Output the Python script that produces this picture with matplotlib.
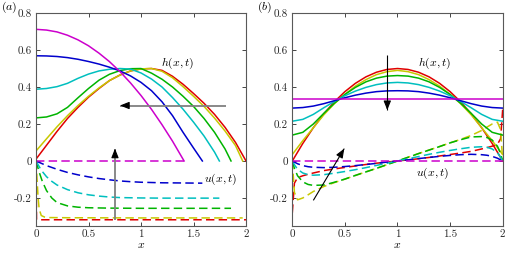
import numpy as np
import matplotlib
matplotlib.use("Agg")
import matplotlib.pyplot as plt

plt.rcParams["font.family"] = "cmr10"
plt.rcParams["mathtext.fontset"] = "cm"
plt.rcParams["axes.unicode_minus"] = False
plt.rcParams["axes.formatter.use_mathtext"] = True

# colours, in time order (first -> last)
colors = ["#e00000", "#c8c800", "#00b400", "#00bfbf", "#0000cc", "#cc00cc"]

# ---------------- panel (a) : h(x,t) ----------------
xa = [0.0, 0.1, 0.2, 0.3, 0.4, 0.5, 0.6, 0.7, 0.8, 0.9, 1.0,
      1.1, 1.2, 1.3, 1.4, 1.5, 1.6, 1.7, 1.8, 1.9, 2.0]

ha_red = [0.01, 0.085, 0.16, 0.23, 0.29, 0.345, 0.392, 0.435, 0.465, 0.487, 0.498,
          0.5, 0.49, 0.458, 0.415, 0.365, 0.312, 0.252, 0.182, 0.1, 0.0]
xa_yel = xa[:20] + [1.968]
ha_yel = [0.054, 0.12, 0.185, 0.245, 0.3, 0.35, 0.395, 0.435, 0.465, 0.487, 0.498,
          0.5, 0.485, 0.45, 0.402, 0.35, 0.295, 0.232, 0.162, 0.083, 0.0]
xa_grn = xa[:19] + [1.857]
ha_grn = [0.233, 0.238, 0.255, 0.29, 0.342, 0.392, 0.437, 0.469, 0.489, 0.499, 0.5,
          0.475, 0.442, 0.4, 0.35, 0.295, 0.23, 0.155, 0.065, 0.0]
xa_cyn = xa[:18] + [1.746]
ha_cyn = [0.388, 0.392, 0.402, 0.42, 0.447, 0.47, 0.487, 0.496, 0.5, 0.497, 0.476,
          0.443, 0.4, 0.343, 0.28, 0.21, 0.135, 0.048, 0.0]
xa_blu = xa[:16] + [1.584]
ha_blu = [0.569, 0.568, 0.565, 0.559, 0.55, 0.538, 0.524, 0.507, 0.487, 0.46, 0.425,
          0.38, 0.32, 0.245, 0.155, 0.07, 0.0]
xa_mag = xa[:14] + [1.41]
ha_mag = [0.712, 0.708, 0.698, 0.68, 0.655, 0.623, 0.583, 0.537, 0.483, 0.422, 0.354,
          0.279, 0.196, 0.107, 0.0]

# ---------------- panel (a) : u(x,t) ----------------
ua_red_x = [0.0, 0.005, 2.0]
ua_red = [0.0, -0.318, -0.318]
ua_yel_x = [0.0, 0.01, 0.02, 0.03, 0.05, 0.08, 0.12, 0.3, 1.0, 1.968]
ua_yel = [0.0, -0.1, -0.2, -0.26, -0.295, -0.303, -0.306, -0.307, -0.308, -0.308]
ua_grn_x = [0.0, 0.03, 0.06, 0.1, 0.15, 0.2, 0.3, 0.4, 0.5, 0.7, 1.0, 1.5, 1.857]
ua_grn = [0.0, -0.06, -0.11, -0.16, -0.2, -0.225, -0.243, -0.25, -0.253, -0.255,
          -0.256, -0.256, -0.256]
ua_cyn_x = [0.0, 0.05, 0.1, 0.15, 0.2, 0.3, 0.4, 0.5, 0.6, 0.7, 0.8, 1.0, 1.2, 1.4,
            1.6, 1.746]
ua_cyn = [0.0, -0.05, -0.085, -0.11, -0.13, -0.155, -0.172, -0.183, -0.19, -0.195,
          -0.198, -0.2, -0.201, -0.201, -0.201, -0.201]
ua_blu_x = [0.0, 0.1, 0.2, 0.3, 0.4, 0.5, 0.6, 0.7, 0.8, 0.9, 1.0, 1.2, 1.4, 1.584]
ua_blu = [0.0, -0.025, -0.045, -0.062, -0.075, -0.086, -0.095, -0.102, -0.108,
          -0.112, -0.115, -0.118, -0.119, -0.12]
ua_mag_x = [0.0, 1.41]
ua_mag = [0.0, 0.0]

# ---------------- panel (b) : h(x,t) ----------------
xb = xa
hb_red = [0.0, 0.095, 0.18, 0.255, 0.32, 0.375, 0.42, 0.455, 0.48, 0.495, 0.5,
          0.495, 0.48, 0.455, 0.42, 0.375, 0.32, 0.255, 0.18, 0.095, 0.0]
hb_yel = [0.035, 0.11, 0.18, 0.25, 0.31, 0.36, 0.405, 0.44, 0.467, 0.483, 0.49,
          0.483, 0.467, 0.44, 0.405, 0.36, 0.31, 0.25, 0.18, 0.11, 0.035]
hb_grn = [0.14, 0.155, 0.2, 0.258, 0.312, 0.36, 0.398, 0.428, 0.448, 0.459, 0.462,
          0.459, 0.448, 0.428, 0.398, 0.36, 0.312, 0.258, 0.2, 0.155, 0.14]
hb_cyn = [0.215, 0.225, 0.252, 0.288, 0.322, 0.353, 0.378, 0.398, 0.413, 0.422, 0.425,
          0.422, 0.413, 0.398, 0.378, 0.353, 0.322, 0.288, 0.252, 0.225, 0.215]
hb_blu = [0.286, 0.289, 0.297, 0.31, 0.326, 0.342, 0.356, 0.367, 0.375, 0.379, 0.38,
          0.379, 0.375, 0.367, 0.356, 0.342, 0.326, 0.31, 0.297, 0.289, 0.286]
hb_mag_x = [0.0, 2.0]
hb_mag = [0.334, 0.334]

# ---------------- panel (b) : u(x,t) ----------------
xu = [0.0, 0.02, 0.05, 0.1, 0.15, 0.2, 0.3, 0.4, 0.5, 0.6, 0.7, 0.8, 0.9, 1.0,
      1.1, 1.2, 1.3, 1.4, 1.5, 1.6, 1.7, 1.8, 1.85, 1.9, 1.95, 1.98, 2.0]
ub_red = [-0.28, -0.12, -0.09, -0.08, -0.072, -0.065, -0.052, -0.043, -0.035, -0.027,
          -0.019, -0.012, -0.006, 0.0, 0.006, 0.012, 0.019, 0.027, 0.035, 0.043,
          0.052, 0.065, 0.072, 0.08, 0.09, 0.12, 0.28]
ub_yel = [0.0, -0.17, -0.21, -0.2, -0.183, -0.165, -0.138, -0.117, -0.098, -0.078,
          -0.059, -0.04, -0.02, 0.0, 0.02, 0.04, 0.059, 0.078, 0.098, 0.117, 0.138,
          0.165, 0.183, 0.2, 0.21, 0.17, 0.0]
ub_grn = [0.0, -0.04, -0.08, -0.113, -0.127, -0.132, -0.13, -0.115, -0.098, -0.078,
          -0.059, -0.04, -0.02, 0.0, 0.02, 0.04, 0.059, 0.078, 0.098, 0.115, 0.13,
          0.132, 0.127, 0.113, 0.08, 0.04, 0.0]
ub_cyn = [0.0, -0.02, -0.045, -0.065, -0.074, -0.077, -0.074, -0.066, -0.057, -0.047,
          -0.036, -0.024, -0.012, 0.0, 0.012, 0.024, 0.036, 0.047, 0.057, 0.066,
          0.074, 0.077, 0.074, 0.065, 0.045, 0.02, 0.0]
ub_blu = [0.0, -0.006, -0.015, -0.025, -0.031, -0.034, -0.036, -0.034, -0.03, -0.025,
          -0.019, -0.013, -0.006, 0.0, 0.006, 0.013, 0.019, 0.025, 0.03, 0.034,
          0.036, 0.034, 0.031, 0.025, 0.015, 0.006, 0.0]
ub_mag_x = [0.0, 2.0]
ub_mag = [0.0, 0.0]

xticks = [0, 0.5, 1, 1.5, 2]
xticklabels = ["0", "0.5", "1", "1.5", "2"]
yticks = [-0.2, 0, 0.2, 0.4, 0.6, 0.8]
yticklabels = ["-0.2", "0", "0.2", "0.4", "0.6", "0.8"]

LW = 1.1
DASH = (0, (5.5, 2.8))
FS = 8


def style_axes(ax):
    ax.set_xlim(0, 2)
    ax.set_ylim(-0.35, 0.8)
    ax.set_xticks(xticks)
    ax.set_xticklabels(xticklabels)
    ax.set_yticks(yticks)
    ax.set_yticklabels(yticklabels)
    ax.tick_params(direction="in", length=3, width=0.6, labelsize=FS,
                   top=True, right=True, colors="0.15", pad=3)
    for s in ax.spines.values():
        s.set_color("0.35")
        s.set_linewidth(0.8)
    ax.set_xlabel("$x$", fontsize=FS + 0.5, labelpad=1)


def arrow(ax, tail, tip, line_color, lw):
    ax.plot([tail[0], tip[0]], [tail[1], tip[1]], color=line_color, lw=lw,
            solid_capstyle="butt", zorder=5)
    ax.annotate("", xy=tip, xytext=(tip[0] + (tail[0] - tip[0]) * 0.08,
                                    tip[1] + (tail[1] - tip[1]) * 0.08),
                arrowprops=dict(arrowstyle="-|>,head_length=0.55,head_width=0.22",
                                color="k", lw=0.8, shrinkA=0, shrinkB=0,
                                mutation_scale=10),
                zorder=6)


fig = plt.figure(figsize=(5.13, 2.56), dpi=100)
ax_a = fig.add_axes([0.0702, 0.1184, 0.4094, 0.8306])
ax_b = fig.add_axes([0.5698, 0.1184, 0.4101, 0.8306])

# panel (a)
h_a = [(xa, ha_red), (xa_yel, ha_yel), (xa_grn, ha_grn), (xa_cyn, ha_cyn),
       (xa_blu, ha_blu), (xa_mag, ha_mag)]
u_a = [(ua_red_x, ua_red), (ua_yel_x, ua_yel), (ua_grn_x, ua_grn),
       (ua_cyn_x, ua_cyn), (ua_blu_x, ua_blu), (ua_mag_x, ua_mag)]
for (x, h), (xu_, u), c in zip(h_a, u_a, colors):
    ax_a.plot(x, h, color=c, lw=LW)
    ax_a.plot(xu_, u, color=c, lw=LW, linestyle=DASH)
style_axes(ax_a)
ax_a.text(1.35, 0.53, "$h(x,t)$", fontsize=FS + 0.5, ha="center", va="center")
ax_a.text(1.6, -0.1, "$u(x,t)$", fontsize=FS + 0.5, ha="left", va="center")
arrow(ax_a, (1.806, 0.30), (0.80, 0.30), "0.5", 1.3)
arrow(ax_a, (0.752, -0.32), (0.752, 0.067), "0.5", 1.3)

# panel (b)
h_b = [(xb, hb_red), (xb, hb_yel), (xb, hb_grn), (xb, hb_cyn), (xb, hb_blu),
       (hb_mag_x, hb_mag)]
u_b = [(xu, ub_red), (xu, ub_yel), (xu, ub_grn), (xu, ub_cyn), (xu, ub_blu),
       (ub_mag_x, ub_mag)]
for (x, h), (xu_, u), c in zip(h_b, u_b, colors):
    ax_b.plot(x, h, color=c, lw=LW)
    ax_b.plot(xu_, u, color=c, lw=LW, linestyle=DASH)
style_axes(ax_b)
ax_b.text(1.35, 0.53, "$h(x,t)$", fontsize=FS + 0.5, ha="center", va="center")
ax_b.text(1.33, -0.065, "$u(x,t)$", fontsize=FS + 0.5, ha="center", va="center")
arrow(ax_b, (0.903, 0.573), (0.903, 0.275), "k", 0.8)
arrow(ax_b, (0.2, -0.213), (0.494, 0.067), "k", 0.8)

fig.text(0.017, 0.973, "$(a)$", fontsize=FS + 0.5, ha="center", va="center")
fig.text(0.515, 0.97, "$(b)$", fontsize=FS + 0.5, ha="center", va="center")

fig.savefig("out.png", dpi=100)
